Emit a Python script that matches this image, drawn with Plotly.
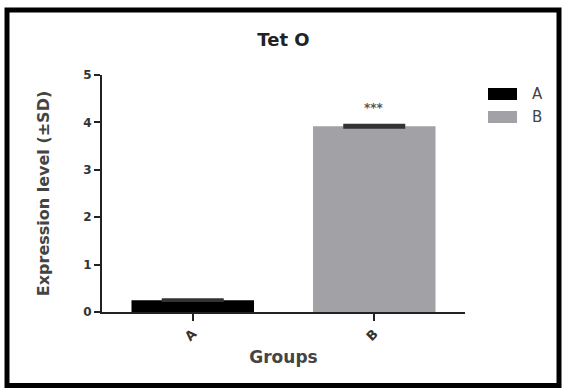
import plotly.graph_objects as go

# ---- data ----
groups = ["A", "B"]
values = [0.25, 3.92]
errors = [0.01, 0.02]
colors = ["#000000", "#a2a2a6"]
significance = ["", "***"]
y_ticks = [0, 1, 2, 3, 4, 5]

FONT = "DejaVu Sans"
W, H = 562, 389
L, R, T, B = 102, 97, 75, 77
pw, ph = W - L - R, H - T - B

def px2x(p):
    return (p - L) / pw

def px2y(p):
    return (H - B - p) / ph

fig = go.Figure()
fig.add_trace(go.Bar(
    x=groups, y=values, width=0.675,
    marker=dict(color=colors, line=dict(width=0)),
    error_y=dict(type="data", array=errors, visible=True,
                 color="#333333", thickness=3, width=31),
    showlegend=False,
))

shapes = [dict(type="rect", xref="paper", yref="paper",
               x0=px2x(7), x1=px2x(559), y0=px2y(385.5), y1=px2y(10),
               line=dict(color="#000000", width=5), fillcolor="rgba(0,0,0,0)",
               layer="above")]
annotations = []
# legend swatches built from the groups/colours
sw_top = [88, 111]
for i, (g, c) in enumerate(zip(groups, colors)):
    shapes.append(dict(type="rect", xref="paper", yref="paper",
                       x0=px2x(488), x1=px2x(517),
                       y0=px2y(sw_top[i] + 12), y1=px2y(sw_top[i]),
                       line=dict(width=0), fillcolor=c))
    annotations.append(dict(xref="paper", yref="paper", x=px2x(530),
                            y=px2y(sw_top[i] + 6), text=g, showarrow=False,
                            xanchor="left", yanchor="middle",
                            font=dict(family=FONT, size=15, color="#444444")))

for g, v, e, s in zip(groups, values, errors, significance):
    if s:
        annotations.append(dict(x=g, y=v + e, xref="x", yref="y", text=s,
                                showarrow=False, yanchor="bottom", yshift=8,
                                font=dict(family=FONT, size=12, color="#555555",
                                          weight="bold")))

fig.update_layout(
    width=W, height=H,
    margin=dict(l=L, r=R, t=T, b=B, autoexpand=False),
    paper_bgcolor="white", plot_bgcolor="white",
    title=dict(text="Tet O", x=0.5, xref="paper", xanchor="center",
               y=1 - 40 / H, yref="container", yanchor="middle",
               font=dict(family=FONT, size=18, color="#222222", weight="bold")),
    shapes=shapes, annotations=annotations,
    bargap=0.3,
)
fig.update_xaxes(
    range=[-0.5, 1.5], showgrid=False, zeroline=False,
    showline=True, linecolor="#222222", linewidth=2,
    ticks="outside", ticklen=7, tickwidth=2, tickcolor="#222222",
    tickangle=-45,
    tickfont=dict(family=FONT, size=13, color="#333333", weight="bold"),
    title=dict(text="Groups", standoff=8,
               font=dict(family=FONT, size=17, color="#444444", weight="bold")),
)
fig.update_yaxes(
    range=[0, 5], tickvals=y_ticks, showgrid=False, zeroline=False,
    showline=True, linecolor="#222222", linewidth=2,
    ticks="outside", ticklen=6, tickwidth=2, tickcolor="#222222",
    tickfont=dict(family=FONT, size=12, color="#333333", weight="bold"),
    title=dict(text="Expression level (±SD)", standoff=30,
               font=dict(family=FONT, size=16, color="#444444", weight="bold")),
)

fig.write_html(
    "out.html",
    config={"displayModeBar": False},
    post_script="document.body.style.margin='0';document.body.style.overflow='hidden';",
)
